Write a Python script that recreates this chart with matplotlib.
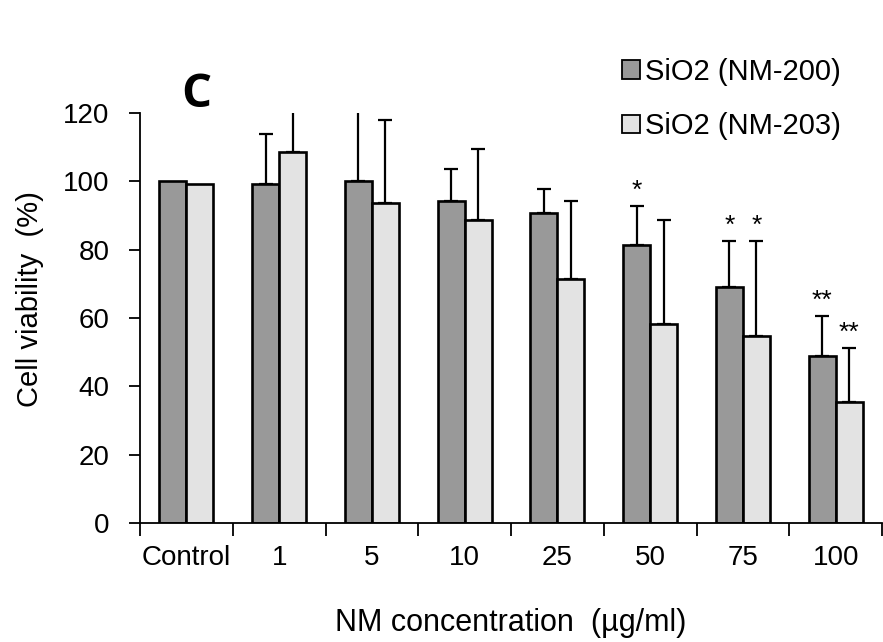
import numpy as np
import matplotlib
matplotlib.use("Agg")
import matplotlib.pyplot as plt
from matplotlib.patches import Patch

plt.rcParams['font.family'] = ['Liberation Sans', 'DejaVu Sans']

# Data
categories = ["Control", "1", "5", "10", "25", "50", "75", "100"]
nm200 = [100, 99.2, 100, 94.2, 90.7, 81.4, 69.1, 48.9]
nm200_err = [0, 14.6, 25, 9.4, 7.0, 11.4, 13.4, 11.7]
nm203 = [99.2, 108.6, 93.6, 88.7, 71.4, 58.2, 54.7, 35.4]
nm203_err = [0, 15, 24.3, 20.7, 22.8, 30.5, 27.8, 15.8]
sig200 = ["", "", "", "", "", "*", "*", "**"]
sig203 = ["", "", "", "", "", "", "*", "**"]
series_labels = ["SiO2 (NM-200)", "SiO2 (NM-203)"]

dark = "#999999"
light = "#e3e3e3"

fig = plt.figure(figsize=(8.83, 6.42), dpi=100)
ax = fig.add_axes([140 / 883, 1 - 523 / 642, 742 / 883, 410 / 642])

x = np.arange(len(categories))
w = 0.29

ax.bar(x - w / 2, nm200, w, color=dark, edgecolor="black", linewidth=1.9, zorder=2)
ax.bar(x + w / 2, nm203, w, color=light, edgecolor="black", linewidth=1.9, zorder=2)

# upper error bars only
for xs, vals, errs in [(x - w / 2, nm200, nm200_err), (x + w / 2, nm203, nm203_err)]:
    m = np.array(errs) > 0
    ax.errorbar(xs[m], np.array(vals)[m],
                yerr=[np.zeros(m.sum()), np.array(errs)[m]],
                fmt="none", ecolor="black", elinewidth=1.6, capsize=5,
                capthick=1.6, zorder=1)

# significance stars
for xs, vals, errs, sigs in [(x - w / 2, nm200, nm200_err, sig200),
                             (x + w / 2, nm203, nm203_err, sig203)]:
    for xp, v, e, s in zip(xs, vals, errs, sigs):
        if s:
            ax.annotate(s, xy=(xp, v + e), xytext=(0, 2), textcoords="offset points",
                        ha="center", va="bottom", fontsize=19)

ax.set_xlim(-0.5, len(categories) - 0.5)
ax.set_ylim(0, 120)
ax.set_yticks(np.arange(0, 121, 20))
ax.tick_params(axis="y", labelsize=20, length=8, width=1.3, pad=14)

# category boundaries as ticks, labels in the middle
ax.set_xticks(np.arange(-0.5, len(categories), 1))
ax.set_xticklabels([])
ax.set_xticks(x, minor=True)
ax.set_xticklabels(categories, minor=True)
ax.tick_params(axis="x", which="major", length=9, width=1.3)
ax.tick_params(axis="x", which="minor", length=0, labelsize=20, pad=16)

for side in ["top", "right"]:
    ax.spines[side].set_visible(False)
for side in ["left", "bottom"]:
    ax.spines[side].set_linewidth(1.3)

ax.set_xlabel("NM concentration  (µg/ml)", fontsize=22)
ax.xaxis.set_label_coords(0.5, -0.208)
ax.set_ylabel("Cell viability  (%)", fontsize=21)
ax.yaxis.set_label_coords(-0.13, 0.546)

ax.text(0.0755, 1.045, "C", transform=ax.transAxes, fontsize=34, fontweight="bold",
        family="Open Sans", ha="center", va="center")

handles = [Patch(facecolor=dark, edgecolor="black", linewidth=1.3),
           Patch(facecolor=light, edgecolor="black", linewidth=1.3)]
fig.legend(handles, series_labels, loc="upper left", bbox_to_anchor=(622 / 883, 1 - 58 / 642),
           frameon=False, fontsize=21, handlelength=0.6, handleheight=0.6,
           handletextpad=0.2, labelspacing=0.9, borderpad=0, borderaxespad=0)

fig.savefig("out.png", dpi=100)
